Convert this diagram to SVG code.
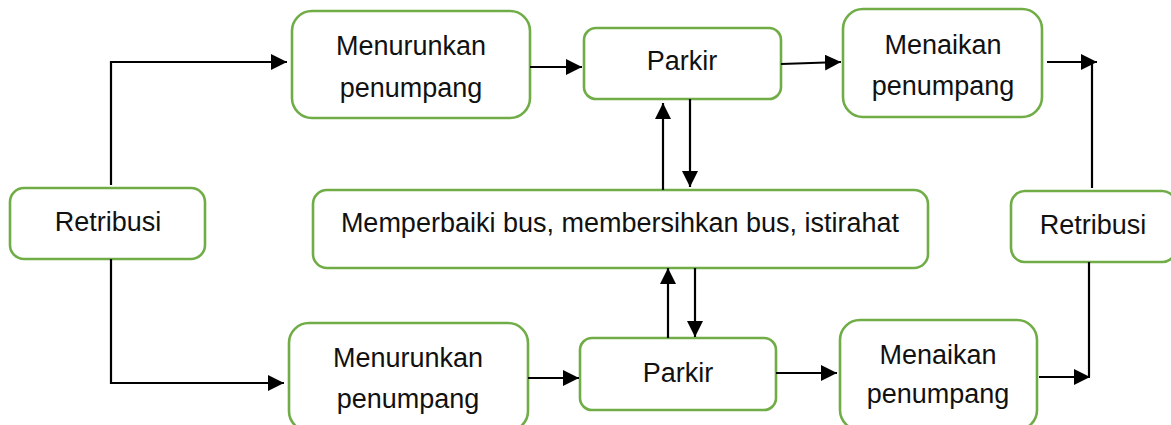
<svg xmlns="http://www.w3.org/2000/svg" width="1171" height="425" viewBox="0 0 1171 425">
<defs>
<style>
.box{fill:#fff;stroke:#70ad47;stroke-width:2.6}
.t{font-family:"Liberation Sans",Arial,sans-serif;font-size:27px;fill:#111;text-anchor:middle}
.c{fill:none;stroke:#000;stroke-width:2.2}
</style>
<marker id="ah" viewBox="0 0 16 16" refX="16" refY="8" markerWidth="16" markerHeight="16" markerUnits="userSpaceOnUse" orient="auto">
<path d="M0,0 L16,8 L0,16 z" fill="#000"/>
</marker>
</defs>
<rect width="1171" height="425" fill="#fff"/>
<g id="retribusi-left"><rect class="box" x="10" y="188" width="195" height="71" rx="14"/><text class="t" x="108" y="231">Retribusi</text></g>
<g id="menurunkan-top"><rect class="box" x="292" y="11" width="238" height="107" rx="20"/><text class="t" x="411" y="55">Menurunkan</text><text class="t" x="411" y="97">penumpang</text></g>
<g id="parkir-top"><rect class="box" x="584" y="28" width="197" height="71" rx="12"/><text class="t" x="682" y="70">Parkir</text></g>
<g id="menaikan-top"><rect class="box" x="843" y="9" width="199" height="108" rx="20"/><text class="t" x="943" y="54">Menaikan</text><text class="t" x="943" y="95">penumpang</text></g>
<g id="middle"><rect class="box" x="313" y="190" width="615" height="78" rx="14"/><text class="t" x="620" y="232">Memperbaiki bus, membersihkan bus, istirahat</text></g>
<g id="retribusi-right"><rect class="box" x="1011" y="191" width="165" height="71" rx="14"/><text class="t" x="1093" y="234">Retribusi</text></g>
<g id="menurunkan-bottom"><rect class="box" x="289" y="323" width="239" height="108" rx="20"/><text class="t" x="408" y="367">Menurunkan</text><text class="t" x="408" y="408">penumpang</text></g>
<g id="parkir-bottom"><rect class="box" x="580" y="338" width="196" height="72" rx="12"/><text class="t" x="678" y="382">Parkir</text></g>
<g id="menaikan-bottom"><rect class="box" x="840" y="320" width="197" height="110" rx="20"/><text class="t" x="938" y="364">Menaikan</text><text class="t" x="938" y="403">penumpang</text></g>
<g id="connectors">
<path class="c" d="M111,185 V62 H287" marker-end="url(#ah)"/>
<path class="c" d="M111,259 V383 H284" marker-end="url(#ah)"/>
<path class="c" d="M530,67 H582" marker-end="url(#ah)"/>
<path class="c" d="M663,190 V103" marker-end="url(#ah)"/>
<path class="c" d="M690,99 V187" marker-end="url(#ah)"/>
<path class="c" d="M781,64 L841,62" marker-end="url(#ah)"/>
<path class="c" d="M1092,188 V62"/>
<path class="c" d="M1047,62 H1097" marker-end="url(#ah)"/>
<path class="c" d="M1089,262 V377"/>
<path class="c" d="M1039,377 H1090" marker-end="url(#ah)"/>
<path class="c" d="M528,378 H579" marker-end="url(#ah)"/>
<path class="c" d="M776,373 H837" marker-end="url(#ah)"/>
<path class="c" d="M668,338 V268" marker-end="url(#ah)"/>
<path class="c" d="M695,268 V337" marker-end="url(#ah)"/>
</g>
</svg>
